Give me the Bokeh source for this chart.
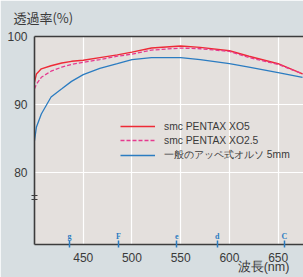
from bokeh.plotting import figure
from bokeh.models import Range1d, FixedTicker, LinearAxis, Legend, LegendItem
from bokeh.core.properties import value
from bokeh.embed import file_html
from bokeh.resources import INLINE

# --- data ---
wavelength = [400, 402, 407, 417, 428, 438, 450, 467, 485, 500, 520, 550, 570, 600, 620, 650, 675]
xo5 = [93.3, 94.5, 95.25, 95.7, 96.1, 96.35, 96.5, 96.9, 97.3, 97.7, 98.3, 98.6, 98.4, 97.9, 97.1, 96.0, 94.5]
xo25 = [92.3, 93.0, 94.0, 94.9, 95.5, 95.9, 96.2, 96.6, 97.1, 97.4, 98.0, 98.3, 98.2, 97.8, 96.9, 95.9, 94.5]
ortho = [84.7, 86.7, 88.6, 91.1, 92.3, 93.4, 94.4, 95.3, 96.0, 96.6, 96.9, 96.9, 96.6, 96.0, 95.5, 94.7, 94.0]
series_names = ["smc PENTAX XO5", "smc PENTAX XO2.5", "一般のアッペ式オルソ 5mm"]
fraun_wl = [435.8, 486.1, 546.1, 587.6, 656.3]
fraun_lbl = ["g", "F", "e", "d", "C"]
x_ticks = [450, 500, 550, 600, 650]
y_ticks = [80, 90, 100]
y_break = [76.05, 76.55]
y_title = "透過率(%)"
x_title = "波長(nm)"

BG = "#d7dee1"
PLOT_BG = "#e4e0dd"
TXT = "#3a3a3a"
AX = "#3c3c3c"
BLUE = "#2b7cc1"
FONT = "Liberation Sans"
CJK = "Noto Sans CJK JP"

p = figure(width=303, height=277, x_range=Range1d(400, 676), y_range=Range1d(69.41, 100),
           output_backend="svg", toolbar_location=None,
           min_border_left=34, min_border_right=0, min_border_top=36, min_border_bottom=33,
           background_fill_color=PLOT_BG, border_fill_color=BG, outline_line_color=None)

# grid
p.xgrid.ticker = FixedTicker(ticks=x_ticks)
p.ygrid.ticker = FixedTicker(ticks=[t for t in y_ticks if t < 100])
p.grid.grid_line_color = "white"
p.grid.grid_line_width = 1.2

# bottom axis: wavelength labels + Fraunhofer line ticks (as minor ticks)
xa = p.xaxis[0]
xa.ticker = FixedTicker(ticks=x_ticks, minor_ticks=fraun_wl)
xa.major_tick_in = 0
xa.major_tick_out = 0
xa.minor_tick_in = 4
xa.minor_tick_out = 3
xa.minor_tick_line_color = BLUE
xa.minor_tick_line_width = 1.5
xa.major_label_standoff = 5
xa.major_label_text_font_size = "12px"
xa.major_label_text_color = TXT
xa.major_label_text_font = FONT
xa.axis_line_color = AX
xa.axis_line_width = 1.6

# x title as second (label-only) axis below
xt_pos = 664
xt = LinearAxis(ticker=FixedTicker(ticks=[xt_pos]), major_label_overrides={xt_pos: x_title},
                major_tick_in=0, major_tick_out=0, minor_tick_line_color=None,
                axis_line_color=None, major_label_standoff=-5,
                major_label_text_font_size="12.5px", major_label_text_color=TXT,
                major_label_text_font=FONT)
p.add_layout(xt, "below")

# left axis with break mark
ya = p.yaxis[0]
ya.ticker = FixedTicker(ticks=y_ticks, minor_ticks=y_break)
ya.major_tick_in = 0
ya.major_tick_out = 0
ya.minor_tick_in = 3
ya.minor_tick_out = 3
ya.minor_tick_line_color = AX
ya.minor_tick_line_width = 1.2
ya.major_label_standoff = 4
ya.major_label_text_font_size = "12px"
ya.major_label_text_color = TXT
ya.major_label_text_font = FONT
ya.axis_line_color = AX
ya.axis_line_width = 1.6

# top border line + y title
yt_pos = 409
top = LinearAxis(ticker=FixedTicker(ticks=[yt_pos]), major_label_overrides={yt_pos: y_title},
                 major_tick_in=0, major_tick_out=0, minor_tick_line_color=None,
                 major_label_standoff=10, major_label_text_font_size="13px",
                 major_label_text_color=TXT, major_label_text_font=CJK,
                 axis_line_color=AX, axis_line_width=1.6)
p.add_layout(top, "above")

# curves
r3 = p.line(wavelength, ortho, line_color=BLUE, line_width=1.3)
r1 = p.line(wavelength, xo5, line_color="#ee2a36", line_width=1.4)
r2 = p.line(wavelength, xo25, line_color="#e6398f", line_width=1.3, line_dash="4 2")

legend = Legend(items=[LegendItem(label=series_names[0], renderers=[r1]),
                       LegendItem(label=series_names[1], renderers=[r2]),
                       LegendItem(label=series_names[2], renderers=[r3])],
                location=(86, 82), glyph_width=35, glyph_height=12, label_height=12,
                label_standoff=9, spacing=2, padding=0, margin=0,
                background_fill_alpha=0, border_line_color=None,
                label_text_font_size="10.3px", label_text_color=TXT, label_text_font=FONT)
p.add_layout(legend)

# Fraunhofer letters
fraun_y = 70.6
p.text(x=fraun_wl, y=[fraun_y] * len(fraun_wl), text=fraun_lbl, text_align="center",
       text_baseline="middle", text_font=value("Liberation Serif"), text_font_style="bold",
       text_font_size="8px", text_color=BLUE)

open("out.html", "w").write(file_html(p, INLINE))
